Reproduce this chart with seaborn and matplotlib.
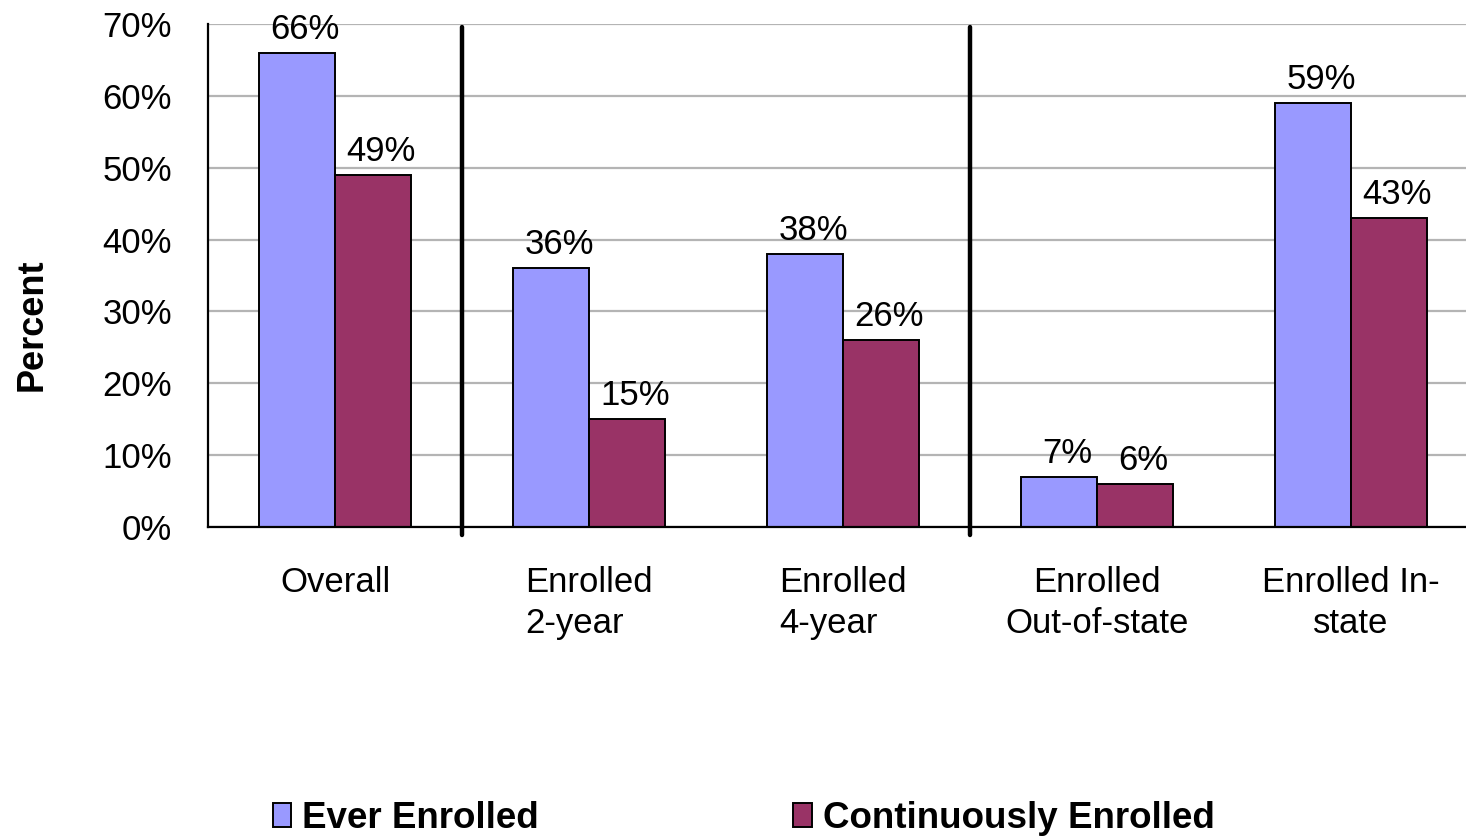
import matplotlib
matplotlib.use("Agg")
import matplotlib.pyplot as plt
import matplotlib.ticker as mticker
import pandas as pd
import seaborn as sns

# Enrollment rates by group
categories = ["Overall", "Enrolled\n2-year", "Enrolled\n4-year",
              "Enrolled\nOut-of-state", "Enrolled In-\nstate"]
series_names = ["Ever Enrolled", "Continuously Enrolled"]
ever_enrolled = [66, 36, 38, 7, 59]
continuously_enrolled = [49, 15, 26, 6, 43]
y_ticks = [0, 10, 20, 30, 40, 50, 60, 70]
palette = {"Ever Enrolled": "#9999FF", "Continuously Enrolled": "#993366"}

df = pd.DataFrame({
    "Category": categories * 2,
    "Series": [series_names[0]] * len(categories) + [series_names[1]] * len(categories),
    "Value": ever_enrolled + continuously_enrolled,
})

sns.set_style("white")
plt.rcParams["font.family"] = ["Liberation Sans", "DejaVu Sans"]

fig = plt.figure(figsize=(14.66, 8.36), dpi=100)
ax = fig.add_axes([208 / 1466, 309 / 836, 1270 / 1466, 503 / 836])

sns.barplot(data=df, x="Category", y="Value", hue="Series", order=categories,
            hue_order=series_names, palette=palette, width=0.6, saturation=1,
            edgecolor="black", linewidth=1.4, errorbar=None, ax=ax)

handles, labels = ax.get_legend_handles_labels()
if ax.get_legend() is not None:
    ax.get_legend().remove()

ax.set_xlim(-0.5, len(categories) - 0.5)
ax.set_ylim(0, 70)
ax.set_yticks(y_ticks)
ax.yaxis.set_major_formatter(mticker.FuncFormatter(lambda v, p: f"{v:.0f}%"))
ax.yaxis.grid(True, color="#b4b4b4", linewidth=1.6)
ax.set_axisbelow(True)

for side in ("top", "right"):
    ax.spines[side].set_visible(False)
for side in ("left", "bottom"):
    ax.spines[side].set_color("black")
    ax.spines[side].set_linewidth(1.6)

ax.tick_params(axis="y", which="major", length=6, width=1.4, color="black",
               pad=20, labelsize=25, labelcolor="black")
ax.tick_params(axis="x", which="major", length=0, pad=28, labelsize=25,
               labelcolor="black")
ax.set_xticks(range(len(categories)))
ax.set_xticklabels(categories)
for lbl in ax.get_xticklabels():
    lbl.set_linespacing(1.3)
    if lbl.get_text().endswith("year"):
        lbl.set_multialignment("left")
    else:
        lbl.set_multialignment("center")
ax.set_xticks([i - 0.5 for i in range(len(categories) + 1)], minor=True)
ax.tick_params(axis="x", which="minor", length=7, width=1.4, color="black",
               direction="out")

# Heavy separators between category groups
for xb in (0.5, 2.5):
    ax.axvline(xb, ymin=-0.016, ymax=0.995, color="black", linewidth=3.2,
               clip_on=False, zorder=5)

# Value labels above each bar
for container in ax.containers:
    for patch in container:
        h = patch.get_height()
        ax.annotate(f"{h:.0f}%", (patch.get_x() + patch.get_width() / 2, h),
                    xytext=(6, 5), textcoords="offset points",
                    ha="center", va="bottom", fontsize=25, color="black")

ax.set_xlabel("")
ax.set_ylabel("Percent", fontsize=26, fontweight="bold", color="black")
ax.yaxis.set_label_coords(-0.1244, 0.4016)

fig.legend(handles, labels, loc="center left", bbox_to_anchor=(273 / 1466, 0.021),
           ncol=2, frameon=False, prop={"weight": "bold", "size": 26.5},
           labelcolor="black",
           handlelength=0.5, handleheight=0.6, handletextpad=0.3,
           columnspacing=6.9, borderpad=0, borderaxespad=0)

fig.savefig("out.png", dpi=100, facecolor="white")
